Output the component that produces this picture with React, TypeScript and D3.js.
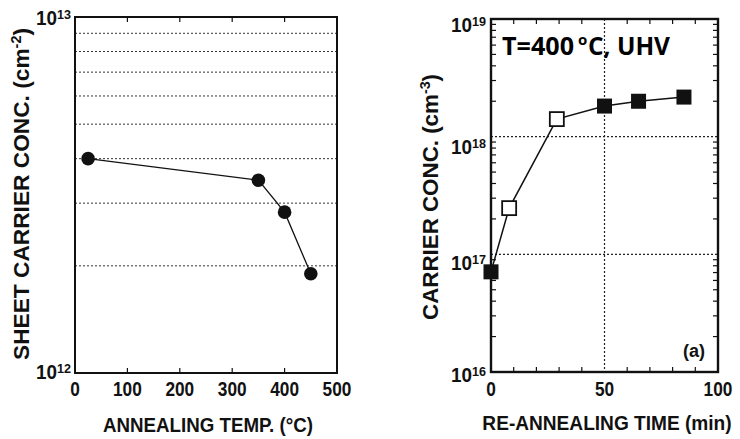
import React from "react";
import * as d3 from "d3";

const tempC = [25, 350, 400, 450];
const sheetConc = [4.0e12, 3.48e12, 2.83e12, 1.9e12];
const tempTicks = [0, 100, 200, 300, 400, 500];

const reTime = [0, 8, 29, 50, 65, 85];
const carrierConc = [7.1e16, 2.47e17, 1.41e18, 1.82e18, 2.0e18, 2.17e18];
const filledMarker = [true, false, false, true, true, true];
const timeTicks = [0, 50, 100];

const FONT = "'Liberation Sans', Arial, Helvetica, sans-serif";
const INK = "#111";

function Pow({ x, y, exp, anchor = "end" }: { x: number; y: number; exp: number; anchor?: string }) {
  return (
    <text x={x} y={y} textAnchor={anchor as any} fontFamily={FONT} fontWeight="bold" fill={INK} fontSize={20}>
      <tspan textLength={21} lengthAdjust="spacingAndGlyphs">10</tspan>
      <tspan dy={-6} fontSize={13} textLength={14} lengthAdjust="spacingAndGlyphs">{exp}</tspan>
    </text>
  );
}

export default function App() {
  // Left chart
  const L = { x0: 75, x1: 337, y0: 17, y1: 373 };
  const xL = d3.scaleLinear().domain([0, 500]).range([L.x0, L.x1]);
  const yL = d3.scaleLog().domain([1e12, 1e13]).range([L.y1, L.y0]);
  const gridL = [2, 3, 4, 5, 6, 7, 8, 9].map((m) => m * 1e12);
  const lineL = d3
    .line<number>()
    .x((_, i) => xL(tempC[i]))
    .y((d) => yL(d));

  // Right chart
  const R = { x0: 491, x1: 718, y0: 19, y1: 372 };
  const xR = d3.scaleLinear().domain([0, 100]).range([R.x0, R.x1]);
  const yR = d3.scaleLog().domain([1e16, 1e19]).range([R.y1, R.y0]);
  const minorR: number[] = [];
  [16, 17, 18].forEach((e) => {
    for (let m = 2; m <= 9; m++) minorR.push(m * Math.pow(10, e));
  });
  const minorX = d3.range(10, 100, 10).filter((v) => v !== 50);
  const lineR = d3
    .line<number>()
    .x((_, i) => xR(reTime[i]))
    .y((d) => yR(d));

  return (
    <svg width={740} height={439} style={{ position: "absolute", left: 0, top: 0, background: "#fff" }}>
      {/* ===== Left panel ===== */}
      {gridL.map((v) => (
        <line key={v} x1={L.x0} x2={L.x1} y1={yL(v)} y2={yL(v)} stroke="#333" strokeWidth={1} strokeDasharray="2,2" />
      ))}
      {tempTicks.slice(1, -1).map((t) => (
        <g key={t}>
          <line x1={xL(t)} x2={xL(t)} y1={L.y0} y2={L.y0 + 5} stroke={INK} strokeWidth={1.2} />
          <line x1={xL(t)} x2={xL(t)} y1={L.y1} y2={L.y1 - 5} stroke={INK} strokeWidth={1.2} />
        </g>
      ))}
      <rect x={L.x0} y={L.y0} width={L.x1 - L.x0} height={L.y1 - L.y0} fill="none" stroke={INK} strokeWidth={2} />
      <path d={lineL(sheetConc) || ""} fill="none" stroke={INK} strokeWidth={1.3} />
      {sheetConc.map((v, i) => (
        <circle key={i} cx={xL(tempC[i])} cy={yL(v)} r={6.8} fill={INK} />
      ))}
      {tempTicks.map((t) => (
        <text key={t} x={xL(t)} y={396} textAnchor="middle" fontFamily={FONT} fontWeight="bold" fontSize={21} fill={INK}
          textLength={String(t).length * 9.6} lengthAdjust="spacingAndGlyphs">
          {t}
        </text>
      ))}
      <Pow x={71} y={25} exp={13} />
      <Pow x={71} y={379} exp={12} />
      <text x={208} y={432} textAnchor="middle" fontFamily={FONT} fontWeight="bold" fontSize={21} fill={INK}
        textLength={210} lengthAdjust="spacingAndGlyphs">
        ANNEALING TEMP. (°C)
      </text>
      <text transform="translate(29,194) rotate(-90)" textAnchor="middle" fontFamily={FONT} fontWeight="bold" fontSize={22} fill={INK}
        textLength={332} lengthAdjust="spacingAndGlyphs">
        SHEET CARRIER CONC. (cm<tspan dy={-8} fontSize={14}>-2</tspan><tspan dy={8}>)</tspan>
      </text>

      {/* ===== Right panel ===== */}
      {[1e17, 1e18].map((v) => (
        <line key={v} x1={R.x0} x2={R.x1} y1={yR(v)} y2={yR(v)} stroke="#222" strokeWidth={1.2} strokeDasharray="2,2" />
      ))}
      <line x1={xR(50)} x2={xR(50)} y1={R.y0} y2={R.y1} stroke="#222" strokeWidth={1.2} strokeDasharray="2,2" />
      {minorR.map((v) => (
        <g key={v}>
          <line x1={R.x0} x2={R.x0 + 5} y1={yR(v)} y2={yR(v)} stroke={INK} strokeWidth={1.2} />
          <line x1={R.x1} x2={R.x1 - 5} y1={yR(v)} y2={yR(v)} stroke={INK} strokeWidth={1.2} />
        </g>
      ))}
      {minorX.map((t) => (
        <g key={t}>
          <line x1={xR(t)} x2={xR(t)} y1={R.y0} y2={R.y0 + 5} stroke={INK} strokeWidth={1.2} />
          <line x1={xR(t)} x2={xR(t)} y1={R.y1} y2={R.y1 - 5} stroke={INK} strokeWidth={1.2} />
        </g>
      ))}
      <rect x={R.x0} y={R.y0} width={R.x1 - R.x0} height={R.y1 - R.y0} fill="none" stroke={INK} strokeWidth={2.4} />
      <path d={lineR(carrierConc) || ""} fill="none" stroke={INK} strokeWidth={1.5} />
      {carrierConc.map((v, i) => {
        const s = 14;
        return filledMarker[i] ? (
          <rect key={i} x={xR(reTime[i]) - s / 2 - 0.5} y={yR(v) - s / 2 - 0.5} width={s + 1} height={s + 1} fill={INK} />
        ) : (
          <rect key={i} x={xR(reTime[i]) - s / 2} y={yR(v) - s / 2} width={s} height={s} fill="#fff" stroke={INK} strokeWidth={1.8} />
        );
      })}
      {timeTicks.map((t) => (
        <text key={t} x={xR(t)} y={396} textAnchor="middle" fontFamily={FONT} fontWeight="bold" fontSize={21} fill={INK}
          textLength={String(t).length * 9.6} lengthAdjust="spacingAndGlyphs">
          {t}
        </text>
      ))}
      <Pow x={486} y={32} exp={19} />
      <Pow x={486} y={154} exp={18} />
      <Pow x={486} y={270} exp={17} />
      <Pow x={486} y={382} exp={16} />
      <text transform="translate(607,430) scale(0.91,1)" textAnchor="middle" fontFamily={FONT} fontWeight="bold" fontSize={21} fill={INK}>
        RE-ANNEALING TIME (min)
      </text>
      <text transform="translate(438,197) rotate(-90)" textAnchor="middle" fontFamily={FONT} fontWeight="bold" fontSize={22} fill={INK}
        textLength={246} lengthAdjust="spacingAndGlyphs">
        CARRIER CONC. (cm<tspan dy={-8} fontSize={14}>-3</tspan><tspan dy={8}>)</tspan>
      </text>
      <text x={502} y={55} fontFamily="'Open Sans', sans-serif" fontWeight="bold" fontSize={25} fill="#000"
        textLength={72} lengthAdjust="spacingAndGlyphs">
        T=400
      </text>
      <text x={578} y={45} fontFamily="'Open Sans', sans-serif" fontWeight="bold" fontSize={15} fill="#000">
        o
      </text>
      <text x={588} y={55} fontFamily="'Open Sans', sans-serif" fontWeight="bold" fontSize={25} fill="#000"
        textLength={82} lengthAdjust="spacingAndGlyphs">
        C, UHV
      </text>
      <text x={705} y={357} textAnchor="end" fontFamily={FONT} fontWeight="bold" fontSize={18} fill={INK}>
        (a)
      </text>
    </svg>
  );
}
